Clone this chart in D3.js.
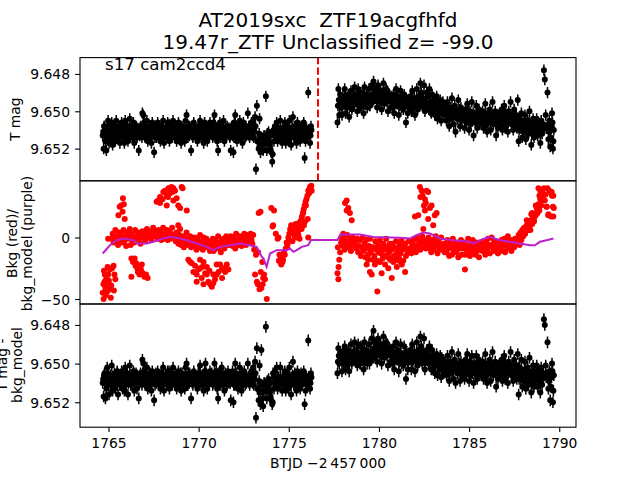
<!DOCTYPE html>
<html><head><meta charset="utf-8">
<script src="https://cdn.jsdelivr.net/npm/d3@7"></script>
<style>body{margin:0;background:#fff}svg{display:block}</style>
</head><body>
<svg id="c" width="640" height="480"></svg>
<script>
// ---------------- DATA ----------------
const titleLines = ["AT2019sxc  ZTF19acgfhfd", "19.47r_ZTF Unclassified z= -99.0"];
const sectorLabel = "s17 cam2ccd4";
const xLabel = "BTJD \u22122\u2009457\u2009000";
const xTicks = [1765, 1770, 1775, 1780, 1785, 1790];
const magTicks = [9.648, 9.650, 9.652];
const bkgTicks = [-50, 0];
const markTime = 1776.62;          // red dashed marker
const cadence = 0.05;              // days between samples of one series
const segStart = [1764.68, 1777.70]; // start of each orbit
const interleave = 0.025;          // second (interleaved) sample series offset
const magBase = 9.65, magUnit = 0.0001, magErr = 0.0003;

// T mag (panel 1), units of 1e-4 mag above 9.65 (20 samples per day per row)
const tmag1 = [
 13,20,8,16,21,9,5,17,11,14,6,18,13,9,16,5,11,14,8,17,
 11,6,14,9,17,5,13,8,16,11,4,14,9,13,6,17,11,8,14,9,
 21,13,8,11,1,2,6,14,9,5,16,11,8,13,17,6,9,22,14,8,
 11,6,14,9,16,8,13,5,17,11,9,14,6,13,16,8,11,14,5,9,
 13,8,16,9,6,14,11,17,8,13,9,16,5,2,14,8,13,9,21,11,
 14,6,11,9,13,16,8,11,5,14,9,13,17,6,11,8,16,9,13,6,
 11,8,14,6,2,13,9,16,21,11,6,14,8,13,5,16,9,13,8,11,
 9,14,21,8,13,22,6,2,11,16,8,13,5,14,9,17,6,11,14,8,
 11,1,8,14,9,6,13,5,9,3,31,-3,16,20,4,22,18,20,21,13,
 17,-8,21,14,11,17,20,22,27,11,16,8,13,6,16,9,14,5,13,17,
 9,14,6,17,11,8,16,5,13,18,9,3,14,8,11,17,6,13,9,16,
 8,14,11,6,25,16,9,13,-10,11,17,8];
const tmag1b = [
 11,8,13,10,14,9,12,7,11,13,10,15,9,12,8,11,14,10,12,9,
 10,13,9,12,7,11,14,10,12,8,13,11,9,14,10,12,8,11,13,10,
 12,9,11,14,8,10,13,11,9,12,10,14,8,11,13,10,12,9,11,14,
 9,12,10,13,11,8,14,10,12,9,11,13,10,7,12,11,14,9,12,10,
 13,10,12,9,11,14,8,12,10,13,11,9,12,10,14,11,8,12,10,13,
 10,12,9,14,11,10,13,8,12,11,9,13,10,12,14,9,11,13,10,12,
 12,10,13,9,11,14,10,12,8,11,13,10,12,9,14,11,10,13,9,12,
 11,13,9,12,10,14,11,8,12,10,13,11,9,12,14,10,12,9,11,13,
 12,10,13,9,11,12,10,14,11,8,null,16,null,12,18,null,14,null,17,13,
 16,null,12,15,null,18,13,null,23,10,13,11,12,10,14,11,12,10,13,11,
 12,10,13,11,9,12,14,10,11,13,9,12,11,14,10,12,13,11,9,12,
 11,13,10,12,9,12,14,11,10,12,13,10];
const tmag2 = [
 6,-12,2,-9,-2,2,-8,-4,-12,1,-6,-2,-9,3,-5,-11,-1,-6,-4,-13,
 -5,-9,0,-12,-6,-2,-10,-3,-7,1,-13,-5,-9,-2,-6,-12,-3,-7,-14,-5,
 -16,-12,-7,-9,-2,-14,-8,-5,-11,-1,-9,-15,-4,-8,-12,-5,0,-9,-7,-2,
 -6,-2,-9,1,-5,-12,-4,-8,2,-6,-11,-2,-5,-1,-9,-4,6,-6,1,-5,
 -4,-8,0,-11,-3,-7,2,-5,-12,-1,-8,-4,-15,-10,-3,-7,-14,0,-5,-10,
 -8,-2,-12,-5,1,-9,-3,-6,2,-2,-8,4,-3,1,-6,5,-1,-5,2,-2,
 0,5,-5,2,8,-2,4,-7,1,7,-3,11,0,4,-6,2,8,-2,5,1,
 3,9,-1,6,-4,4,10,0,7,-5,3,13,2,6,-3,9,4,-1,7,2,
 4,0,9,3,-4,7,11,2,6,-1,10,3,-5,7,4,0,13,3,9,2,
 3,7,-1,10,4,-3,9,2,6,11,0,4,-5,7,3,10,-1,6,2,9,
 -6,16,4,9,1,14,7,11,2,15,8,5,12,0,9,18,7,4,14,8,
 9,4,13,7,11,17,5,12,8,-22,-17,2,9,-10,15,5,19,8,1,20,
 10];
const tmag2b = [
 -3,-6,-4,-7,-5,-3,-6,-4,-8,-5,-2,-6,-4,-7,-5,-3,-6,-8,-4,-6,
 -5,-7,-4,-8,-6,-3,-7,-5,-9,-6,-4,-7,-5,-8,-6,-3,-7,-5,-9,-6,
 -9,-7,-10,-6,-8,-11,-7,-9,-5,-8,-10,-7,-9,-6,-8,-11,-7,-9,-6,-8,
 -6,-4,-7,-3,-5,-8,-4,-6,-3,-5,-7,-4,-6,-2,-5,-7,-4,-6,-3,-5,
 -5,-3,-6,-2,-4,-7,-3,-5,-2,-4,-6,-3,-8,-5,-3,-6,-4,-2,-5,-4,
 -3,-1,-4,0,-2,-5,-1,-3,0,-2,-4,-1,-3,1,-2,-4,0,-3,-1,-2,
 0,2,-1,3,1,-2,2,0,3,1,-1,2,0,4,1,-1,2,0,3,1,
 2,4,1,5,3,0,4,2,5,3,1,4,2,6,3,1,4,2,5,3,
 3,5,2,4,1,3,6,2,4,3,1,5,3,2,4,6,2,3,5,2,
 4,2,5,3,6,4,1,5,3,6,4,2,5,3,7,4,2,5,3,6,
 4,10,7,9,6,10,8,5,9,7,11,8,6,10,8,12,7,9,6,10,
 8,10,7,11,9,12,8,10,7,null,null,9,null,null,11,7,14,9,6,16];

// T mag - bkg_model (panel 3), same units
const corr1 = [
 10,17,5,18,13,2,8,16,7,11,1,14,10,5,13,8,4,16,7,11,
 8,4,13,7,14,2,10,5,16,8,1,11,7,10,4,14,8,5,13,7,
 18,10,5,8,-2,0,4,11,7,2,13,8,5,10,14,4,7,19,11,5,
 8,4,11,7,13,5,10,2,14,8,7,11,4,10,13,5,8,11,2,7,
 10,5,13,7,4,11,8,14,5,10,7,13,2,0,11,5,10,7,18,8,
 11,4,8,7,10,13,5,8,1,11,7,10,14,4,0,5,13,7,10,4,
 8,5,11,7,0,10,4,13,18,8,5,11,2,10,7,14,5,8,11,4,
 10,7,19,8,4,20,11,0,5,10,13,7,2,8,14,5,10,4,11,7,
 8,0,7,11,5,4,10,2,7,-1,28,-8,13,19,1,21,-7,18,22,10,
 14,-19,18,11,8,14,17,19,21,5,13,4,10,2,13,7,11,2,10,14,
 7,11,4,14,8,5,13,2,10,16,7,-1,11,5,8,14,4,10,7,13,
 5,11,8,4,21,14,7,10,-12,8,13,5];
const corr1b = [
 8,6,10,7,9,5,11,8,6,10,7,9,12,6,8,10,5,9,7,11,
 7,10,6,9,8,11,5,8,10,7,9,6,11,8,5,10,7,9,6,8,
 9,6,8,11,5,7,10,8,6,9,7,11,5,8,10,6,9,8,7,10,
 6,9,7,10,8,5,11,7,9,6,8,10,7,4,9,8,11,6,9,7,
 10,7,9,6,8,11,5,9,7,10,8,6,9,7,11,8,5,9,7,10,
 7,9,6,11,8,7,10,5,9,8,6,10,7,9,11,6,8,10,7,9,
 9,7,10,6,8,11,7,9,5,8,10,7,9,6,11,8,7,10,6,9,
 8,10,6,9,7,11,8,5,9,7,10,8,6,9,11,7,9,6,8,10,
 9,7,10,6,8,9,7,11,8,5,null,13,null,9,15,null,11,null,14,10,
 13,null,9,12,null,15,10,null,20,7,10,8,9,7,11,8,9,7,10,8,
 9,7,10,8,6,9,11,7,8,10,6,9,8,11,7,9,10,8,6,9,
 8,10,7,9,6,9,11,8,7,9,10,7];
const corr2 = [
 5,-8,0,-6,-2,4,-6,0,-9,3,-3,1,-7,4,-4,-10,0,-3,-6,-11,
 -3,-7,1,-10,-4,0,-9,-2,-6,3,-11,-3,-7,0,-4,-10,-2,-6,-13,-3,
 -17,-11,-6,-8,-1,-13,-7,-4,-10,0,-8,-14,-3,-7,-11,-4,1,-8,-6,-1,
 -4,0,-9,3,-3,-11,-2,-7,4,-4,-10,0,-3,1,-9,-2,8,-6,3,-3,
 -2,-7,3,-10,-2,-6,4,-3,-11,1,-7,-3,-14,-9,0,-4,-13,3,-3,-7,
 -5,0,-9,-2,3,-7,-1,-4,5,0,-5,6,-1,3,-4,7,2,-2,5,0,
 1,6,-4,3,9,-1,5,-6,2,8,-2,10,1,5,-5,3,9,-1,6,2,
 2,8,-2,5,-5,3,9,-1,6,-4,2,10,1,5,-4,8,3,-2,6,1,
 3,-1,8,2,-5,6,10,1,5,-2,9,2,-6,6,3,-1,12,2,8,1,
 2,6,-2,9,3,-4,8,1,5,10,-1,3,-6,6,2,9,-2,5,1,8,
 -5,16,2,8,-2,12,5,9,-1,13,6,2,11,-3,8,15,4,1,12,5,
 8,1,12,4,9,15,2,11,5,-23,-20,1,6,-11,13,4,19,5,0,20,
 6];
const corr2b = [
 -1,-4,-2,-5,-3,-1,-4,-2,-6,-3,0,-4,-2,-5,-3,-1,-4,-6,-2,-4,
 -2,-4,-1,-5,-3,0,-4,-2,-6,-3,-1,-4,-2,-5,-3,0,-4,-2,-6,-3,
 -8,-6,-9,-5,-7,-10,-6,-8,-4,-7,-9,-6,-8,-5,-7,-10,-6,-8,-5,-7,
 -4,-2,-5,-1,-3,-6,-2,-4,-1,-3,-5,-2,-4,0,-3,-5,-2,-4,-1,-3,
 -4,-2,-5,-1,-3,-6,-2,-4,-1,-3,-5,-2,-7,-4,-2,-5,-3,-1,-4,-3,
 -2,0,-3,1,-1,-4,0,-2,1,-1,-3,0,-2,2,-1,-3,1,-2,0,-1,
 1,3,0,4,2,-1,3,1,4,2,0,3,1,5,2,0,3,1,4,2,
 2,0,3,1,4,2,-1,3,1,5,2,0,4,1,3,2,-1,4,2,3,
 3,1,4,2,0,3,5,1,3,2,0,4,2,1,3,5,1,2,4,1,
 2,4,1,3,5,2,0,4,2,5,3,1,4,2,6,3,1,4,2,5,
 2,8,5,7,4,8,6,3,7,5,9,6,4,8,6,10,5,7,4,8,
 6,8,5,9,7,10,6,8,5,null,null,7,null,null,9,5,12,7,4,14];

// Background (panel 2, red), sampled series
const bkg1 = [
 -45,-50,-36,-41,-33,-44,-30,-38,-26,-49,-1,3,-4,0,6,-3,1,-6,4,-1,
 3,-4,0,6,-3,1,-7,4,-1,0,7,-6,3,-3,1,-4,6,0,-1,4,
 -2,2,-5,1,5,0,2,-3,4,7,1,0,5,2,-2,4,8,1,5,2,
 3,-1,6,1,5,-2,2,8,-1,3,1,6,-2,5,2,-1,3,8,1,2,
 1,-3,4,0,-5,2,-2,-6,1,-3,-8,0,-5,4,-2,-6,-3,1,-8,-2,
 -3,-7,0,-5,-10,-1,-4,-8,2,-5,-3,-10,0,-7,-4,-1,-8,-3,-5,-11,
 -4,-8,-1,-11,-5,-2,-9,-6,1,-8,-4,-12,-2,-6,-1,-9,-5,1,-6,-2,
 -2,-6,1,-4,-7,0,-3,-9,3,-4,-2,-6,1,-3,-7,0,-4,3,-2,-6,
 -1,2,-4,0,3,-2,-5,2,-10,-30,-14,-36,-38,20,-42,21,-41,-20,-33,-30,
 -34,null,-50,null,null,null,null,24,null,10,22,null,3,null,-1,0,-14,-20,-22,-18,
 -18,-12,-14,-9,-4,-6,0,3,7,10,4,9,6,1,11,5,8,2,12,7,
 14,17,20,23,26,29,31,34,38,36,41,40];
const bkg2 = [
 -29,-34,-18,-12,-4,-1,-7,0,-10,-3,-5,2,-8,-4,-1,-11,-5,0,-7,-3,
 -4,-9,-1,-12,-7,-2,-15,-8,0,-11,-5,-16,-2,-9,-14,-7,-1,-12,-8,-18,
 -8,-15,-3,-10,-19,-6,-12,-2,-13,-9,-17,-5,-10,-15,-1,-8,-16,-12,-5,-9,
 -10,-5,-15,-8,-17,-3,-12,-9,-16,-6,-13,-2,-10,-19,-8,-5,-15,-9,-12,-3,
 -9,-3,-13,-6,-10,-2,-7,-12,0,-6,-9,-3,-10,-5,1,-7,-2,-6,-9,-3,
 -5,0,-9,-3,-12,-6,-2,-10,-7,1,-5,-13,-3,-9,-6,0,-10,-7,-5,-12,
 -7,-12,-2,-9,-15,-5,-8,-14,-1,-11,-7,-4,-12,-8,-16,-5,-9,-2,-14,-7,
 -9,-4,-14,-7,-11,-1,-8,-15,-5,-12,-2,-9,-7,-14,-4,-11,-8,-16,-5,-9,
 -6,-11,-3,-8,-14,-4,-10,-1,-7,-13,-6,0,-8,-11,-3,-7,-10,-4,-13,-6,
 -5,-9,-2,-11,-6,-1,-12,-3,-8,1,-9,-5,-2,-11,-6,-3,-8,-1,-5,-2,
 -3,2,-5,4,0,6,1,8,3,5,10,7,12,9,6,14,11,16,13,19,
 18,24,20,27,22,31,26,38,34,40,30,35,25,40,19,38,37,17,34,25,
 24];
// Background excursions (time, value)
const bkgExtra = [
 [1764.72,-38],[1764.8,-30],[1764.86,-47],[1764.95,-24],[1765.02,-35],[1765.1,-42],[1765.2,-25],[1765.28,-23],
 [1765.33,-30],[1765.38,-34],[1765.3,-43],[1764.98,-1],[1764.75,-27],[1765.15,-39],
 [1765.55,18],[1765.62,25],[1765.7,26],[1765.8,32],[1765.78,21],[1765.9,15],[1765.85,27],
 [1766.27,-17],[1766.45,-17],[1766.36,-20],[1766.54,-21],[1766.63,-28],[1766.72,-30],[1766.8,-26],[1766.9,-29],
 [1766.99,-32],[1767.08,-30],[1767.17,-33],[1766.5,-23],[1766.6,-25],[1766.85,-22],[1766.27,-32],
 [1767.67,29],[1767.76,30],[1767.86,33],[1768.04,37],[1768.13,38],[1768.23,34],[1768.32,40],[1768.41,36],
 [1768.5,41],[1768.6,40],[1768.69,38],[1768.78,32],[1768.87,26],[1768.97,24],[1769.06,41],[1769.11,40],
 [1769.34,22],[1767.86,28],[1768.23,26],[1768.6,30],[1768.87,10],[1768.97,7],[1768.0,31],[1768.3,33],[1768.55,37],
 [1769.43,-18],[1769.53,-20],[1769.62,-21],[1769.71,-28],[1769.89,-30],[1769.99,-26],[1770.08,-25],[1770.17,-33],
 [1770.27,-20],[1770.36,-29],[1770.45,-30],[1770.54,-36],[1770.64,-38],[1770.73,-40],[1770.82,-37],[1770.91,-34],
 [1771.0,-30],[1771.1,-28],[1771.19,-22],[1771.28,-26],[1771.38,-25],[1771.47,-28],[1771.56,-22],[1771.65,-26],
 [1769.89,-36],[1770.27,-38],[1770.45,-24],[1770.82,-30],[1771.0,-22],[1770.08,-18],[1770.6,-27],[1770.2,-24],
 [1769.8,-23],[1771.3,-33],
 [1773.3,-12],[1773.45,-28],[1773.55,-38],[1774.1,9],[1774.45,-19],[1774.55,-15],[1774.65,-20],
 [1774.9,-8],[1775.0,-2],[1775.1,6],[1775.2,-3],[1775.3,8],[1775.4,0],[1775.5,4],[1775.6,-1],[1775.71,7],
 [1775.72,9],[1775.8,20],[1775.84,10],[1775.9,13],[1775.95,26],[1776.05,15],[1776.08,0],[1776.14,39],
 [1776.2,41],[1776.25,42],[1776.27,38],
 [1777.72,-8],[1777.76,-24],[1778.02,3],[1778.12,28],[1778.21,30],[1778.3,24],[1778.39,20],[1778.49,14],[1778.21,22],
 [1779.32,-22],[1779.5,-28],[1779.6,-30],[1779.78,-22],[1779.91,-44],[1780.06,-20],[1780.15,-29],[1780.34,-22],
 [1780.52,-25],[1780.62,-18],[1780.71,-33],[1780.99,-24],[1781.27,-22],[1781.45,-28],[1780.25,-15],[1780.8,-20],
 [1779.4,-18],[1781.1,-19],
 [1782.0,17],[1782.18,18],[1782.27,41],[1782.37,38],[1782.42,34],[1782.5,26],[1782.55,31],[1782.64,38],
 [1782.73,37],[1782.83,24],[1782.92,26],[1783.01,10],[1783.1,18],[1783.2,20],[1782.55,22],[1782.73,15],
 [1782.46,7],[1782.3,33],[1782.6,28],
 [1784.77,-26],
 [1788.4,12],[1788.5,20],[1788.6,15],[1788.7,26],[1788.8,22],[1788.9,34],[1788.95,38],[1788.85,40],
 [1789.0,30],[1789.58,37],[1789.67,34],[1789.67,17],[1789.3,25],[1789.39,18],[1787.8,-6],[1787.9,-2],
 [1788.1,3],[1788.3,6],[1788.2,14],[1788.45,19]];

// Background model (purple line)
const modelT = [1764.68,1765.08,1765.45,1765.82,1766.38,1766.56,1767.12,1767.48,1768.04,1768.41,1768.97,1769.34,
 1769.89,1770.45,1770.81,1771.18,1771.74,1772.29,1772.85,1773.22,1773.5,1773.59,1773.77,1773.96,1774.33,
 1774.88,1775.07,1775.25,1775.44,1775.72,1776.08,1776.23,1777.70,1777.86,1778.95,1779.69,1781.17,1781.73,
 1782.09,1782.46,1782.83,1783.39,1784.12,1785.05,1785.23,1785.6,1786.16,1786.71,1787.82,1788.38,1788.65,
 1788.93,1789.3,1789.68];
const modelV = [-13,-6.3,-2.2,-0.8,-2.2,-4.9,-4.9,-3.5,-0.8,0.5,-0.8,-2.2,
 -4.9,-7.6,-10.3,-7.6,-6.3,-4.9,-6.3,-7.6,-15.7,-17,-23.8,-13,-10.3,
 -10.3,-9,-11.7,-10.3,-7.6,-6.3,-2,-2,2.4,2.4,0.5,-0.3,-0.8,
 1.9,4.1,3.2,-0.8,-2.2,-3.5,-4.9,-2.2,0.5,-2.2,-4.9,-6.3,-6.3,
 -3.5,-2.2,-0.8];

// ---------------- DRAW ----------------
const FONT = '"DejaVu Sans", "Liberation Sans", sans-serif';
const svg = d3.select('#c');
svg.append('rect').attr('width',640).attr('height',480).attr('fill','#fff');

const L = 80, R = 576;
const P = [{top:57.6, bot:180.8},{top:180.8, bot:304},{top:304, bot:427.2}];
const x = d3.scaleLinear().domain([1763.42, 1790.93]).range([L, R]);
const y1 = d3.scaleLinear().domain([9.647124, 9.653723]).range([P[0].top, P[0].bot]);
const y2 = d3.scaleLinear().domain([46.1, -54.07]).range([P[1].top, P[1].bot]);
const y3 = d3.scaleLinear().domain([9.646917, 9.65329]).range([P[2].top, P[2].bot]);

function sampled(start, vals, toVal) {
  return vals.map((v,i) => v === null ? null : {t: start + i*cadence, v: toVal(v)}).filter(d => d);
}
const toMag = v => magBase + v*magUnit;
const ident = v => v;
const tmagData = [].concat(
  sampled(segStart[0], tmag1, toMag), sampled(segStart[0] + interleave, tmag1b, toMag),
  sampled(segStart[1], tmag2, toMag), sampled(segStart[1] + interleave, tmag2b, toMag));
const corrData = [].concat(
  sampled(segStart[0], corr1, toMag), sampled(segStart[0] + interleave, corr1b, toMag),
  sampled(segStart[1], corr2, toMag), sampled(segStart[1] + interleave, corr2b, toMag));
const bkgData = [].concat(sampled(segStart[0], bkg1, ident), sampled(segStart[1], bkg2, ident),
  bkgExtra.map(d => ({t:d[0], v:d[1]})));
const modelData = modelT.map((t,i) => ({t, v: modelV[i]}));

const defs = svg.append('defs');
P.forEach((p,i) => {
  defs.append('clipPath').attr('id','clip'+i).append('rect')
    .attr('x',L).attr('y',p.top).attr('width',R-L).attr('height',p.bot-p.top);
});

function errPanel(idx, data, y) {
  const g = svg.append('g').attr('clip-path','url(#clip'+idx+')');
  g.selectAll('line.eb').data(data).join('line').attr('class','eb')
    .attr('x1', d=>x(d.t)).attr('x2', d=>x(d.t))
    .attr('y1', d=>y(d.v - magErr)).attr('y2', d=>y(d.v + magErr))
    .attr('stroke','#000').attr('stroke-width',1.5);
  g.selectAll('circle').data(data).join('circle')
    .attr('cx', d=>x(d.t)).attr('cy', d=>y(d.v)).attr('r',3).attr('fill','#000');
  return g;
}
const g1 = errPanel(0, tmagData, y1);
g1.append('line').attr('x1',x(markTime)).attr('x2',x(markTime))
  .attr('y1',P[0].bot).attr('y2',P[0].top)
  .attr('stroke','#ff0000').attr('stroke-width',2).attr('stroke-dasharray','7.4,3.2');

const g2 = svg.append('g').attr('clip-path','url(#clip1)');
g2.selectAll('circle').data(bkgData).join('circle')
  .attr('cx', d=>x(d.t)).attr('cy', d=>y2(d.v)).attr('r',3).attr('fill','#ff0000');
g2.append('path').datum(modelData)
  .attr('d', d3.line().x(d=>x(d.t)).y(d=>y2(d.v)))
  .attr('fill','none').attr('stroke','#bb22cc').attr('stroke-width',2);

errPanel(2, corrData, y3);

P.forEach(p => {
  svg.append('rect').attr('x',L).attr('y',p.top).attr('width',R-L).attr('height',p.bot-p.top)
    .attr('fill','none').attr('stroke','#000').attr('stroke-width',1.1);
});

function styleAxis(g) {
  g.attr('font-family', null).attr('font-size', null);
  g.select('.domain').remove();
  g.selectAll('.tick line').attr('stroke','#000').attr('stroke-width',1.1);
  g.selectAll('.tick text').attr('fill','#000').style('font-family',FONT).style('font-size','13.89px');
}
const fmtMag = d3.format('.3f');
const fmtInt = d3.format('d');
[[y1,magTicks,fmtMag],[y2,bkgTicks,fmtInt],[y3,magTicks,fmtMag]].forEach(([sc,tv,f]) => {
  const g = svg.append('g').attr('transform',`translate(${L},0)`)
    .call(d3.axisLeft(sc).tickValues(tv).tickFormat(f).tickSize(4.9).tickPadding(5.1));
  styleAxis(g);
  g.selectAll('.tick text').attr('dy','0.36em');
});
const gx = svg.append('g').attr('transform',`translate(0,${P[2].bot})`)
  .call(d3.axisBottom(x).tickValues(xTicks).tickFormat(fmtInt).tickSize(4.9).tickPadding(6));
styleAxis(gx);

function txt(s, xx, yy, size, anchor, rot) {
  const t = svg.append('text').text(s).attr('fill','#000')
    .style('font-family',FONT).style('font-size',size+'px').style('white-space','pre')
    .attr('text-anchor',anchor||'start');
  if (rot) t.attr('transform',`translate(${xx},${yy}) rotate(-90)`);
  else t.attr('x',xx).attr('y',yy);
  return t;
}
txt(titleLines[0], 328, 27.3, 20, 'middle');
txt(titleLines[1], 328, 49.2, 20, 'middle');
txt(sectorLabel, 105, 70.3, 16.67, 'start');
txt(xLabel, 328, 468.3, 13.89, 'middle');
txt('T mag', 20.1, 119.2, 13.89, 'middle', true);
txt('Bkg (red)/', 17.4, 243.5, 13.89, 'middle', true);
txt('bkg_model (purple)', 32.3, 243.5, 13.89, 'middle', true);
txt('T mag -', 6.5, 365, 13.89, 'middle', true);
txt('bkg_model', 22.3, 365, 13.89, 'middle', true);
</script>
</body></html>
